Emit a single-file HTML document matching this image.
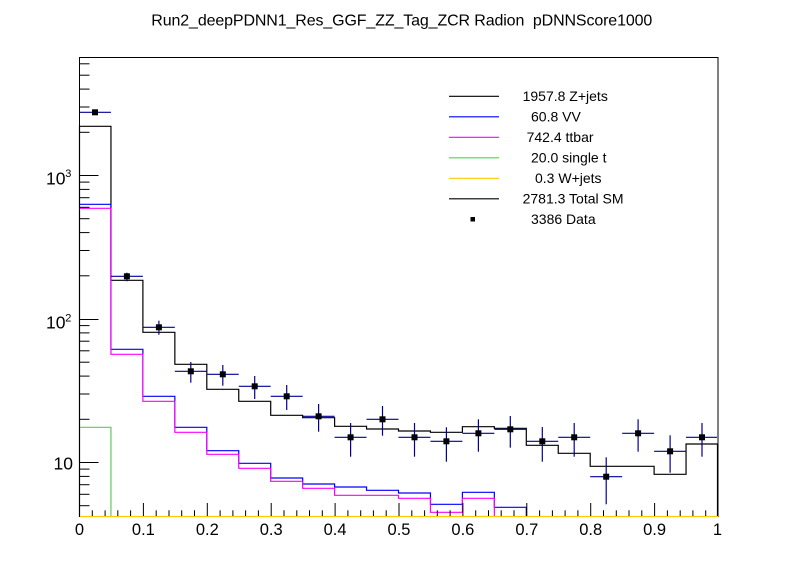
<!DOCTYPE html>
<html>
<head>
<meta charset="utf-8">
<style>
  html, body { margin: 0; padding: 0; background: #ffffff; }
  svg { display: block; }
  text { font-family: "Liberation Sans", Arial, sans-serif; fill: #000; }
</style>
</head>
<body>
<svg width="798" height="575" viewBox="0 0 798 575" xmlns="http://www.w3.org/2000/svg">
  <rect x="0" y="0" width="798" height="575" fill="#ffffff"/>

  <!-- Title -->
  <text x="151.3" y="25.5" font-size="16" textLength="501" lengthAdjust="spacing" xml:space="preserve">Run2_deepPDNN1_Res_GGF_ZZ_Tag_ZCR Radion&#160; pDNNScore1000</text>

  <!-- Histograms -->
  <g fill="none" stroke-width="1.2">
    <path stroke="#000000" d="M79.5,517 V126.3 H110.95 V280.3 H142.9 V332.3 H174.85 V364.3 H206.8 V389.3 H238.75 V401.3 H270.7 V415.3 H302.65 V417.7 H334.6 V426.3 H366.55 V429 H398.5 V431 H430.45 V432.3 H462.4 V426.7 H494.35 V428.3 H526.3 V445.3 H558.25 V453.3 H590.2 V466.3 H622.15 V466.3 H654.1 V474.3 H686.05 V444 H717.5 V517"/>
    <path stroke="#0000ff" d="M79.5,204.3 H110.95 V349.3 H142.9 V396.3 H174.85 V427.3 H206.8 V450.7 H238.75 V463.3 H270.7 V478 H302.65 V484 H334.6 V487 H366.55 V490.3 H398.5 V493 H430.45 V504.3 H462.4 V492.3 H494.35 V507.3 H526.3 V517"/>
    <path stroke="#ff00ff" d="M79.5,208.3 H110.95 V354.3 H142.9 V401.3 H174.85 V432.3 H206.8 V454.3 H238.75 V468.3 H270.7 V481.3 H302.65 V488.3 H334.6 V495.3 H366.55 V495.3 H398.5 V498.3 H430.45 V512.3 H462.4 V498.3 H494.35 V517"/>
    <path stroke="#5ccc5c" d="M79.5,427.3 H110.95 V517"/>
  </g>

  <!-- Frame -->
  <rect x="79.5" y="57.5" width="638.5" height="459" fill="none" stroke="#000" stroke-width="1"/>
  <path fill="none" stroke="#ffcc00" stroke-width="1.2" d="M80,516.5 H718"/>

  <!-- Y axis ticks -->
  <g stroke="#000" stroke-width="1">
    <line x1="79.5" y1="175.5" x2="98.5" y2="175.5"/>
    <line x1="79.5" y1="319.5" x2="98.5" y2="319.5"/>
    <line x1="79.5" y1="462.5" x2="98.5" y2="462.5"/>
    <line x1="79.5" y1="505.7" x2="89.5" y2="505.7"/>
    <line x1="79.5" y1="494.3" x2="89.5" y2="494.3"/>
    <line x1="79.5" y1="484.7" x2="89.5" y2="484.7"/>
    <line x1="79.5" y1="476.4" x2="89.5" y2="476.4"/>
    <line x1="79.5" y1="469.1" x2="89.5" y2="469.1"/>
    <line x1="79.5" y1="419.3" x2="89.5" y2="419.3"/>
    <line x1="79.5" y1="394.0" x2="89.5" y2="394.0"/>
    <line x1="79.5" y1="376.1" x2="89.5" y2="376.1"/>
    <line x1="79.5" y1="362.2" x2="89.5" y2="362.2"/>
    <line x1="79.5" y1="350.8" x2="89.5" y2="350.8"/>
    <line x1="79.5" y1="341.2" x2="89.5" y2="341.2"/>
    <line x1="79.5" y1="332.9" x2="89.5" y2="332.9"/>
    <line x1="79.5" y1="325.6" x2="89.5" y2="325.6"/>
    <line x1="79.5" y1="275.8" x2="89.5" y2="275.8"/>
    <line x1="79.5" y1="250.5" x2="89.5" y2="250.5"/>
    <line x1="79.5" y1="232.6" x2="89.5" y2="232.6"/>
    <line x1="79.5" y1="218.7" x2="89.5" y2="218.7"/>
    <line x1="79.5" y1="207.3" x2="89.5" y2="207.3"/>
    <line x1="79.5" y1="197.7" x2="89.5" y2="197.7"/>
    <line x1="79.5" y1="189.4" x2="89.5" y2="189.4"/>
    <line x1="79.5" y1="182.1" x2="89.5" y2="182.1"/>
    <line x1="79.5" y1="132.3" x2="89.5" y2="132.3"/>
    <line x1="79.5" y1="107.0" x2="89.5" y2="107.0"/>
    <line x1="79.5" y1="89.1" x2="89.5" y2="89.1"/>
    <line x1="79.5" y1="75.2" x2="89.5" y2="75.2"/>
    <line x1="79.5" y1="63.8" x2="89.5" y2="63.8"/>
  </g>

  <!-- Y labels -->
  <text x="73" y="469.5" font-size="17.5" text-anchor="end">10</text>
  <text x="65.5" y="328.5" font-size="17.5" text-anchor="end">10</text>
  <text x="65.3" y="321.3" font-size="11">2</text>
  <text x="65.5" y="184.5" font-size="17.5" text-anchor="end">10</text>
  <text x="65.3" y="176.8" font-size="11">3</text>

  <!-- X axis ticks -->
  <g stroke="#000" stroke-width="1">
    <line x1="79.5" y1="516" x2="79.5" y2="503"/>
    <line x1="143.4" y1="516" x2="143.4" y2="503"/>
    <line x1="207.3" y1="516" x2="207.3" y2="503"/>
    <line x1="271.2" y1="516" x2="271.2" y2="503"/>
    <line x1="335.1" y1="516" x2="335.1" y2="503"/>
    <line x1="399" y1="516" x2="399" y2="503"/>
    <line x1="462.9" y1="516" x2="462.9" y2="503"/>
    <line x1="526.8" y1="516" x2="526.8" y2="503"/>
    <line x1="590.7" y1="516" x2="590.7" y2="503"/>
    <line x1="654.6" y1="516" x2="654.6" y2="503"/>
    <line x1="717.5" y1="516" x2="717.5" y2="503"/>
  </g>
  <g stroke="#000" stroke-width="1">
    <line x1="92.3" y1="516" x2="92.3" y2="510.3"/><line x1="105.1" y1="516" x2="105.1" y2="510.3"/><line x1="117.8" y1="516" x2="117.8" y2="510.3"/><line x1="130.6" y1="516" x2="130.6" y2="510.3"/>
    <line x1="156.2" y1="516" x2="156.2" y2="510.3"/><line x1="169.0" y1="516" x2="169.0" y2="510.3"/><line x1="181.7" y1="516" x2="181.7" y2="510.3"/><line x1="194.5" y1="516" x2="194.5" y2="510.3"/>
    <line x1="220.1" y1="516" x2="220.1" y2="510.3"/><line x1="232.9" y1="516" x2="232.9" y2="510.3"/><line x1="245.6" y1="516" x2="245.6" y2="510.3"/><line x1="258.4" y1="516" x2="258.4" y2="510.3"/>
    <line x1="284.0" y1="516" x2="284.0" y2="510.3"/><line x1="296.8" y1="516" x2="296.8" y2="510.3"/><line x1="309.5" y1="516" x2="309.5" y2="510.3"/><line x1="322.3" y1="516" x2="322.3" y2="510.3"/>
    <line x1="347.9" y1="516" x2="347.9" y2="510.3"/><line x1="360.7" y1="516" x2="360.7" y2="510.3"/><line x1="373.4" y1="516" x2="373.4" y2="510.3"/><line x1="386.2" y1="516" x2="386.2" y2="510.3"/>
    <line x1="411.8" y1="516" x2="411.8" y2="510.3"/><line x1="424.6" y1="516" x2="424.6" y2="510.3"/><line x1="437.3" y1="516" x2="437.3" y2="510.3"/><line x1="450.1" y1="516" x2="450.1" y2="510.3"/>
    <line x1="475.7" y1="516" x2="475.7" y2="510.3"/><line x1="488.5" y1="516" x2="488.5" y2="510.3"/><line x1="501.2" y1="516" x2="501.2" y2="510.3"/><line x1="514.0" y1="516" x2="514.0" y2="510.3"/>
    <line x1="539.6" y1="516" x2="539.6" y2="510.3"/><line x1="552.4" y1="516" x2="552.4" y2="510.3"/><line x1="565.1" y1="516" x2="565.1" y2="510.3"/><line x1="577.9" y1="516" x2="577.9" y2="510.3"/>
    <line x1="603.5" y1="516" x2="603.5" y2="510.3"/><line x1="616.3" y1="516" x2="616.3" y2="510.3"/><line x1="629.0" y1="516" x2="629.0" y2="510.3"/><line x1="641.8" y1="516" x2="641.8" y2="510.3"/>
    <line x1="667.4" y1="516" x2="667.4" y2="510.3"/><line x1="680.2" y1="516" x2="680.2" y2="510.3"/><line x1="692.9" y1="516" x2="692.9" y2="510.3"/><line x1="705.7" y1="516" x2="705.7" y2="510.3"/>
  </g>

  <!-- X labels -->
  <g font-size="16.5" text-anchor="middle">
    <text x="79.5" y="535">0</text>
    <text x="143.4" y="535">0.1</text>
    <text x="207.3" y="535">0.2</text>
    <text x="271.2" y="535">0.3</text>
    <text x="335.1" y="535">0.4</text>
    <text x="399" y="535">0.5</text>
    <text x="462.9" y="535">0.6</text>
    <text x="526.8" y="535">0.7</text>
    <text x="590.7" y="535">0.8</text>
    <text x="654.6" y="535">0.9</text>
    <text x="717.5" y="535">1</text>
  </g>

  <!-- Data points -->
  <g stroke="#000099" stroke-width="1.2">
    <line x1="80" y1="112.3" x2="110.95" y2="112.3"/><line x1="95" y1="110" x2="95" y2="114.5"/>
    <line x1="110.95" y1="276.3" x2="142.9" y2="276.3"/><line x1="126.9" y1="272.7" x2="126.9" y2="281.3"/>
    <line x1="142.9" y1="327.3" x2="174.85" y2="327.3"/><line x1="158.9" y1="320.7" x2="158.9" y2="334.7"/>
    <line x1="174.85" y1="371.3" x2="206.8" y2="371.3"/><line x1="190.8" y1="362" x2="190.8" y2="382.7"/>
    <line x1="206.8" y1="374.3" x2="238.75" y2="374.3"/><line x1="222.8" y1="365" x2="222.8" y2="385.7"/>
    <line x1="238.75" y1="386.3" x2="270.7" y2="386.3"/><line x1="254.7" y1="376" x2="254.7" y2="399"/>
    <line x1="270.7" y1="396.3" x2="302.65" y2="396.3"/><line x1="286.7" y1="385" x2="286.7" y2="410"/>
    <line x1="302.65" y1="416.3" x2="334.6" y2="416.3"/><line x1="318.6" y1="404" x2="318.6" y2="431.7"/>
    <line x1="334.6" y1="437.3" x2="366.55" y2="437.3"/><line x1="350.6" y1="423" x2="350.6" y2="456.7"/>
    <line x1="366.55" y1="419.3" x2="398.5" y2="419.3"/><line x1="382.5" y1="406" x2="382.5" y2="435.7"/>
    <line x1="398.5" y1="437.3" x2="430.45" y2="437.3"/><line x1="414.5" y1="423" x2="414.5" y2="456.7"/>
    <line x1="430.45" y1="441.3" x2="462.4" y2="441.3"/><line x1="446.4" y1="427.3" x2="446.4" y2="461.7"/>
    <line x1="462.4" y1="433.3" x2="494.35" y2="433.3"/><line x1="478.4" y1="419.3" x2="478.4" y2="451.7"/>
    <line x1="494.35" y1="429.3" x2="526.3" y2="429.3"/><line x1="510.3" y1="416" x2="510.3" y2="447.7"/>
    <line x1="526.3" y1="441.3" x2="558.25" y2="441.3"/><line x1="542.3" y1="427" x2="542.3" y2="461.7"/>
    <line x1="558.25" y1="437.3" x2="590.2" y2="437.3"/><line x1="574.2" y1="423" x2="574.2" y2="456.7"/>
    <line x1="590.2" y1="476.7" x2="622.15" y2="476.7"/><line x1="606.2" y1="457.3" x2="606.2" y2="504.3"/>
    <line x1="622.15" y1="433.3" x2="654.1" y2="433.3"/><line x1="638.1" y1="419.3" x2="638.1" y2="451.7"/>
    <line x1="654.1" y1="451.3" x2="686.05" y2="451.3"/><line x1="670.1" y1="435.3" x2="670.1" y2="472.7"/>
    <line x1="686.05" y1="437.3" x2="717" y2="437.3"/><line x1="702" y1="423" x2="702" y2="456.7"/>
  </g>
  <g fill="#000">
    <rect x="92" y="109.3" width="6" height="6"/>
    <rect x="123.9" y="273.3" width="6" height="6"/>
    <rect x="155.9" y="324.3" width="6" height="6"/>
    <rect x="187.8" y="368.3" width="6" height="6"/>
    <rect x="219.8" y="371.3" width="6" height="6"/>
    <rect x="251.7" y="383.3" width="6" height="6"/>
    <rect x="283.7" y="393.3" width="6" height="6"/>
    <rect x="315.6" y="413.3" width="6" height="6"/>
    <rect x="347.6" y="434.3" width="6" height="6"/>
    <rect x="379.5" y="416.3" width="6" height="6"/>
    <rect x="411.5" y="434.3" width="6" height="6"/>
    <rect x="443.4" y="438.3" width="6" height="6"/>
    <rect x="475.4" y="430.3" width="6" height="6"/>
    <rect x="507.3" y="426.3" width="6" height="6"/>
    <rect x="539.3" y="438.3" width="6" height="6"/>
    <rect x="571.2" y="434.3" width="6" height="6"/>
    <rect x="603.2" y="473.7" width="6" height="6"/>
    <rect x="635.1" y="430.3" width="6" height="6"/>
    <rect x="667.1" y="448.3" width="6" height="6"/>
    <rect x="699" y="434.3" width="6" height="6"/>
  </g>

  <!-- Legend -->
  <g stroke-width="1.2">
    <line x1="449" y1="96.3" x2="499" y2="96.3" stroke="#000000"/>
    <line x1="449" y1="116.8" x2="499" y2="116.8" stroke="#0000ff"/>
    <line x1="449" y1="137.3" x2="499" y2="137.3" stroke="#ff00ff"/>
    <line x1="449" y1="157.8" x2="499" y2="157.8" stroke="#44dd44"/>
    <line x1="449" y1="178.3" x2="499" y2="178.3" stroke="#ffcc00"/>
    <line x1="449" y1="198.8" x2="499" y2="198.8" stroke="#000000"/>
  </g>
  <rect x="470.5" y="217" width="4.5" height="4.5" fill="#000"/>
  <g font-size="14">
    <text x="522.6" y="100.8">1957.8 Z+jets</text>
    <text x="531" y="121.3">60.8 VV</text>
    <text x="526.6" y="141.8">742.4 ttbar</text>
    <text x="531" y="162.3">20.0 single t</text>
    <text x="535" y="182.8">0.3 W+jets</text>
    <text x="522.6" y="203.3">2781.3 Total SM</text>
    <text x="531" y="223.8">3386 Data</text>
  </g>
</svg>
</body>
</html>
